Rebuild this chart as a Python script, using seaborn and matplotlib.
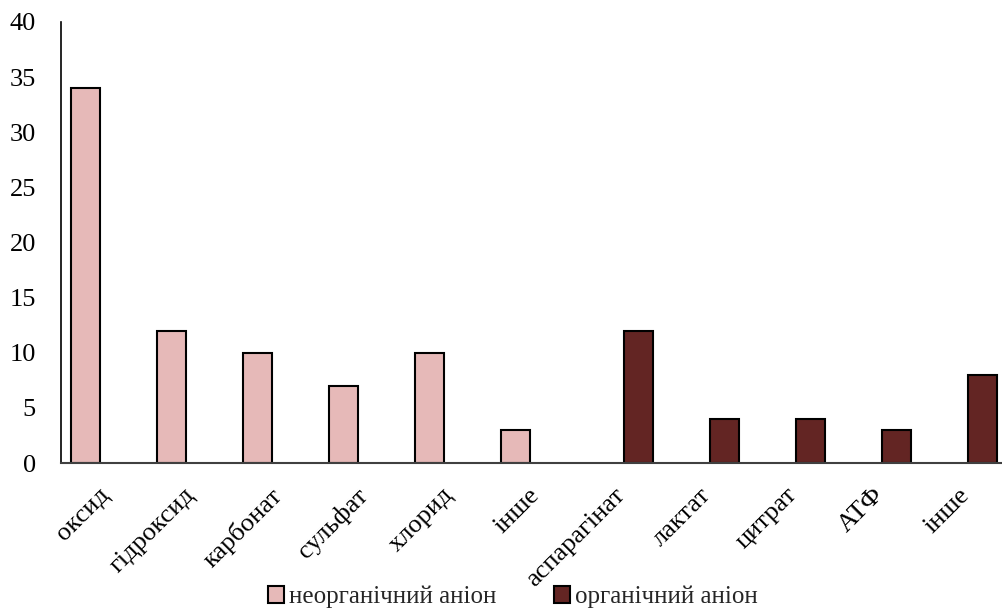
import matplotlib
matplotlib.use("Agg")
import matplotlib.pyplot as plt
import matplotlib.transforms as mtransforms
import seaborn as sns
import pandas as pd

# Anion types and their counts
categories = ["оксид", "гідроксид", "карбонат", "сульфат", "хлорид", "інше",
              "аспарагінат", "лактат", "цитрат", "АТФ", "інше"]
groups = ["неорганічний аніон"] * 6 + ["органічний аніон"] * 5
counts = [34, 12, 10, 7, 10, 3, 12, 4, 4, 3, 8]
hue_order = ["неорганічний аніон", "органічний аніон"]
palette = {"неорганічний аніон": "#E6B9B8", "органічний аніон": "#632523"}

sns.set_theme(style="white")
plt.rcParams["font.family"] = ["Liberation Serif", "DejaVu Serif"]

df = pd.DataFrame({
    "pos": list(range(len(categories))),
    "group": groups,
    "count": counts,
})

fig = plt.figure(figsize=(10.03, 6.10), dpi=100)
ax = fig.add_axes([61 / 1003, 147 / 610, (1003 - 61) / 1003, (463 - 22) / 610])

sns.barplot(data=df, x="pos", y="count", hue="group", hue_order=hue_order,
            palette=palette, width=0.86, gap=0.22, dodge=True,
            edgecolor="black", linewidth=1.5, saturation=1, ax=ax, legend=True)

ax.set_ylim(0, 40)
ax.set_yticks(range(0, 41, 5))
ax.set_xlim(-0.5, 10.453)
ax.set_xticks(range(len(categories)))
ax.set_xticklabels(categories, rotation=45, ha="right", rotation_mode="anchor")
ax.set_xlabel("")
ax.set_ylabel("")
ax.tick_params(axis="both", length=0, labelsize=19, colors="black")
ax.tick_params(axis="y", pad=18)
ax.tick_params(axis="x", pad=15)

# nudge the slanted category labels slightly to the left
shift = mtransforms.ScaledTranslation(-6 / 100, 0, fig.dpi_scale_trans)
for lbl in ax.get_xticklabels():
    lbl.set_transform(lbl.get_transform() + shift)

for side in ["top", "right"]:
    ax.spines[side].set_visible(False)
ax.spines["left"].set_color("black")
ax.spines["left"].set_linewidth(1.2)
ax.spines["bottom"].set_color("#404040")
ax.spines["bottom"].set_linewidth(1.5)

ax.legend(loc="lower center", bbox_to_anchor=(513 / 1003, -0.018),
          bbox_transform=fig.transFigure, ncol=2, frameon=False,
          fontsize=18, handlelength=0.65, handleheight=0.65,
          handletextpad=0.2, columnspacing=2.3, borderaxespad=0.1)

fig.savefig("out.png", dpi=100)
